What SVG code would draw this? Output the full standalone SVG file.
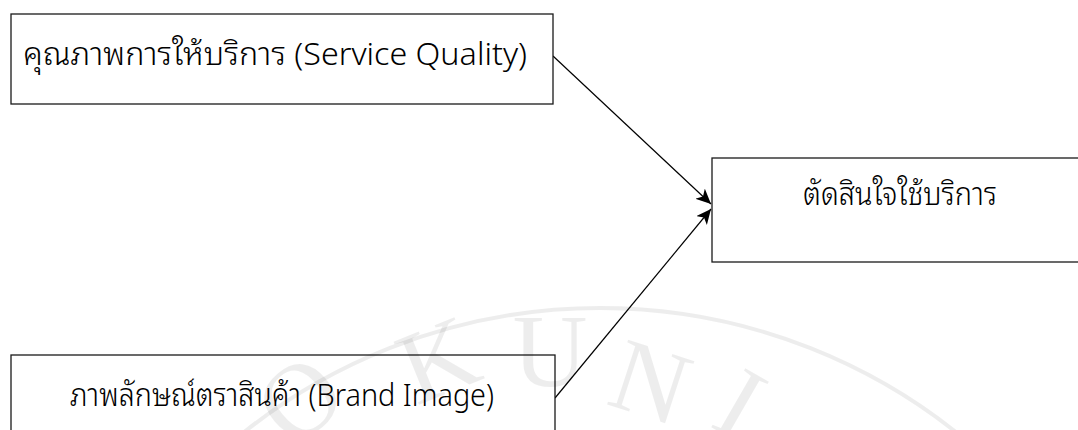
<svg xmlns="http://www.w3.org/2000/svg" width="1078" height="430" viewBox="0 0 1078 430">
  <defs>
    <style>
      .box { fill: #ffffff; stroke: #1a1a1a; stroke-width: 1.3; }
      .lbl { font-family: "Noto Sans Thai Looped", "Noto Sans Thai", "Noto Sans", "DejaVu Sans", sans-serif; font-size: 32px; font-weight: 300; fill: #000000; }
      .conn { stroke: #000000; stroke-width: 1.2; fill: none; }
      .wm { font-family: "Liberation Serif", serif; font-size: 104px; fill: #000000; fill-opacity: 0.07; }
    </style>
    <marker id="arrow" markerUnits="userSpaceOnUse" markerWidth="18" markerHeight="16" refX="15" refY="7" orient="auto">
      <path d="M0,0 L15,7 L0,14 L4,7 Z" fill="#000000"/>
    </marker>
  </defs>
  <rect width="1078" height="430" fill="#ffffff"/>

  <g id="connectors">
    <line class="conn" x1="553" y1="56" x2="711" y2="204" marker-end="url(#arrow)"/>
    <line class="conn" x1="555" y1="398" x2="711" y2="209" marker-end="url(#arrow)"/>
  </g>

  <g id="service-quality">
    <rect class="box" x="11" y="14" width="542" height="90"/>
    <text class="lbl" x="23" y="65" textLength="504" lengthAdjust="spacingAndGlyphs">คุณภาพการให้บริการ (Service Quality)</text>
  </g>

  <g id="decision">
    <rect class="box" x="712" y="158" width="380" height="104"/>
    <text class="lbl" x="803" y="205" textLength="194" lengthAdjust="spacingAndGlyphs">ตัดสินใจใช้บริการ</text>
  </g>

  <g id="brand-image">
    <rect class="box" x="11" y="355" width="544" height="100"/>
    <text class="lbl" x="70" y="406" textLength="424" lengthAdjust="spacingAndGlyphs">ภาพลักษณ์ตราสินค้า (Brand Image)</text>
  </g>

  <g id="watermark">
    <circle cx="600" cy="880" r="572" fill="none" stroke="#000000" stroke-opacity="0.07" stroke-width="4"/>
    <text class="wm" text-anchor="middle" transform="translate(322,426) rotate(-40)">O</text>
    <text class="wm" text-anchor="middle" transform="translate(451,392) rotate(-22)">K</text>
    <text class="wm" text-anchor="middle" transform="translate(550,386)">U</text>
    <text class="wm" text-anchor="middle" transform="translate(640,415) rotate(18)">N</text>
    <text class="wm" text-anchor="middle" transform="translate(723,434) rotate(30)">I</text>
  </g>
</svg>
